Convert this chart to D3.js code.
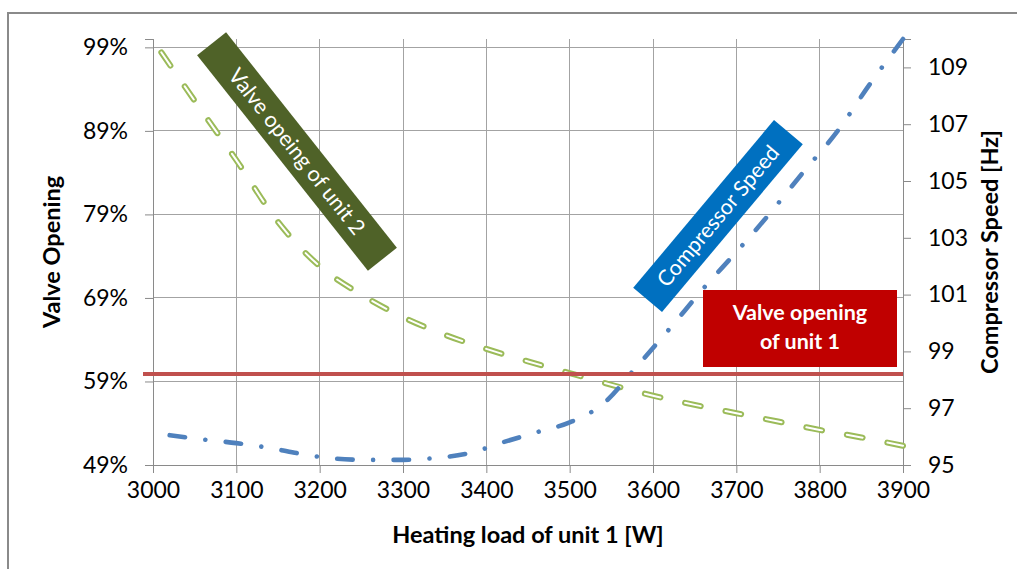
<!DOCTYPE html>
<html>
<head>
<meta charset="utf-8">
<script src="https://cdn.jsdelivr.net/npm/d3@7"></script>
<style>
  html, body { margin: 0; padding: 0; background: #fff; }
  svg { display: block; font-family: Lato, "Open Sans", sans-serif; }
</style>
</head>
<body>
<svg id="chart" width="1017" height="569"></svg>
<script>
// ---- data ----
const xTicks = [3000, 3100, 3200, 3300, 3400, 3500, 3600, 3700, 3800, 3900];
const leftTicks = [49, 59, 69, 79, 89, 99];
const rightTicks = [95, 97, 99, 101, 103, 105, 107, 109];

const loadUnit2 = [3010, 3050, 3100, 3150, 3200, 3250, 3300, 3350, 3400, 3450, 3500, 3550, 3600, 3650, 3700, 3750, 3800, 3850, 3900];
const valveUnit2 = [98.4, 92.6, 85.5, 78.1, 72.8, 69.4, 66.7, 64.6, 62.9, 61.4, 60.0, 58.6, 57.3, 56.2, 55.2, 54.2, 53.2, 52.3, 51.3];

const loadSpeed = [3020, 3060, 3100, 3140, 3180, 3220, 3260, 3300, 3340, 3380, 3420, 3460, 3500, 3540, 3580, 3620, 3660, 3700, 3740, 3780, 3820, 3860, 3900];
const compressorSpeed = [96.05, 95.9, 95.77, 95.6, 95.38, 95.22, 95.18, 95.18, 95.25, 95.42, 95.8, 96.15, 96.5, 97.15, 98.45, 99.8, 101.2, 102.5, 103.85, 105.3, 106.7, 108.4, 110.0];

const loadUnit1 = [2988, 3900];
const valveUnit1 = [59.9, 59.9];

// ---- layout ----
const svg = d3.select("#chart");
const L = 153, R = 903, T = 39, B = 465;

const x = d3.scaleLinear().domain([3000, 3900]).range([L, R]);
const yL = d3.scaleLinear().domain([49, 100]).range([B, T]);
const yR = d3.scaleLinear().domain([95, 110]).range([B, T]);

// outer border
svg.append("rect").attr("x", 8).attr("y", 13).attr("width", 1030).attr("height", 600)
  .attr("fill", "#fff").attr("stroke", "#8a8a8a").attr("stroke-width", 2);

const gridColor = "#a3a3a3";
svg.append("g").selectAll("line").data(leftTicks).join("line")
  .attr("x1", L).attr("x2", R).attr("y1", d => yL(d)).attr("y2", d => yL(d))
  .attr("stroke", gridColor).attr("stroke-width", 1).attr("shape-rendering", "crispEdges");
svg.append("g").selectAll("line").data(xTicks).join("line")
  .attr("x1", d => x(d)).attr("x2", d => x(d)).attr("y1", T).attr("y2", B)
  .attr("stroke", gridColor).attr("stroke-width", 1).attr("shape-rendering", "crispEdges");

// axes
function styleAxis(g) {
  g.select(".domain").attr("stroke", "#8a8a8a");
  g.selectAll(".tick line").attr("stroke", "#8a8a8a");
  g.selectAll(".tick text").attr("fill", "#000").attr("font-size", 23).attr("font-family", "Lato, sans-serif");
}
svg.append("g").attr("transform", `translate(0,${B})`)
  .call(d3.axisBottom(x).tickValues(xTicks).tickFormat(d3.format("d")).tickSizeOuter(0).tickSize(8).tickPadding(9))
  .call(styleAxis);
svg.append("g").attr("transform", `translate(${L},0)`)
  .call(d3.axisLeft(yL).tickValues(leftTicks).tickFormat(d => d + "%").tickSizeOuter(0).tickSize(8).tickPadding(17))
  .call(styleAxis);
svg.append("g").attr("transform", `translate(${R},0)`)
  .call(d3.axisRight(yR).tickValues(rightTicks).tickFormat(d3.format("d")).tickSizeOuter(0).tickSize(8).tickPadding(17))
  .call(styleAxis);

// axis titles
svg.append("text").attr("x", (L + R) / 2).attr("y", 543).attr("text-anchor", "middle")
  .attr("font-weight", "bold").attr("font-size", 23.5).text("Heating load of unit 1 [W]");
svg.append("text").attr("transform", `translate(60,${(T + B) / 2}) rotate(-90)`).attr("text-anchor", "middle")
  .attr("font-weight", "bold").attr("font-size", 23.5).text("Valve Opening");
svg.append("text").attr("transform", `translate(998,${(T + B) / 2}) rotate(-90)`).attr("text-anchor", "middle")
  .attr("font-weight", "bold").attr("font-size", 23.5).text("Compressor Speed [Hz]");

// series
const lineL = d3.line().x(d => x(d[0])).y(d => yL(d[1])).curve(d3.curveMonotoneX);
const lineR = d3.line().x(d => x(d[0])).y(d => yR(d[1])).curve(d3.curveMonotoneX);

// fit a dash pattern so that it starts and ends with a dash
function fitDash(path, dash, gapParts, nominalPeriod) {
  const len = path.node().getTotalLength();
  const n = Math.max(1, Math.round((len - dash) / nominalPeriod));
  const period = (len - dash) / n;
  const gapTotal = period - dash - gapParts.reduce((a, b) => a + b.fixed, 0);
  const parts = [dash];
  gapParts.forEach(p => parts.push(p.fixed + gapTotal * p.share));
  path.attr("stroke-dasharray", parts.join(","));
}

const g2 = d3.zip(loadUnit2, valveUnit2);
const gOuter = svg.append("path").datum(g2).attr("d", lineL).attr("fill", "none")
  .attr("stroke", "#9bbb59").attr("stroke-width", 6).attr("stroke-linecap", "round");
const gInner = svg.append("path").datum(g2).attr("d", lineL).attr("fill", "none")
  .attr("stroke", "#fff").attr("stroke-width", 2).attr("stroke-linecap", "round");
[gOuter, gInner].forEach(p => fitDash(p, 16, [{fixed: 0, share: 1}], 42));

const bPath = svg.append("path").datum(d3.zip(loadSpeed, compressorSpeed)).attr("d", lineR).attr("fill", "none")
  .attr("stroke", "#4f81bd").attr("stroke-width", 4.6).attr("stroke-linecap", "round");
fitDash(bPath, 15.5, [{fixed: 0, share: 0.5}, {fixed: 0.01, share: 0}, {fixed: 0, share: 0.5}], 56.5);

svg.append("path").datum(d3.zip(loadUnit1, valveUnit1)).attr("d", d3.line().x(d => x(d[0])).y(d => yL(d[1])))
  .attr("fill", "none").attr("stroke", "#c0504d").attr("stroke-width", 4);

// annotation boxes
function rotBox(cx, cy, w, h, ang, fill, label, fs) {
  const g = svg.append("g").attr("transform", `translate(${cx},${cy}) rotate(${ang})`);
  g.append("rect").attr("x", -w / 2).attr("y", -h / 2).attr("width", w).attr("height", h).attr("fill", fill);
  g.append("text").attr("text-anchor", "middle").attr("dy", "0.35em").attr("fill", "#fff")
    .attr("font-size", fs).text(label);
}
rotBox(297, 151.5, 275, 37, 51.6, "#4f6228", "Valve opeing of unit 2", 21.5);
rotBox(718, 216, 219, 37.6, -50, "#0070c0", "Compressor Speed", 21.5);

svg.append("rect").attr("x", 703).attr("y", 290).attr("width", 194).attr("height", 77).attr("fill", "#c00000");
svg.append("text").attr("x", 800).attr("y", 320).attr("text-anchor", "middle").attr("fill", "#fff")
  .attr("font-weight", "bold").attr("font-size", 21.5).text("Valve opening");
svg.append("text").attr("x", 800).attr("y", 349).attr("text-anchor", "middle").attr("fill", "#fff")
  .attr("font-weight", "bold").attr("font-size", 21.5).text("of unit 1");
</script>
</body>
</html>
